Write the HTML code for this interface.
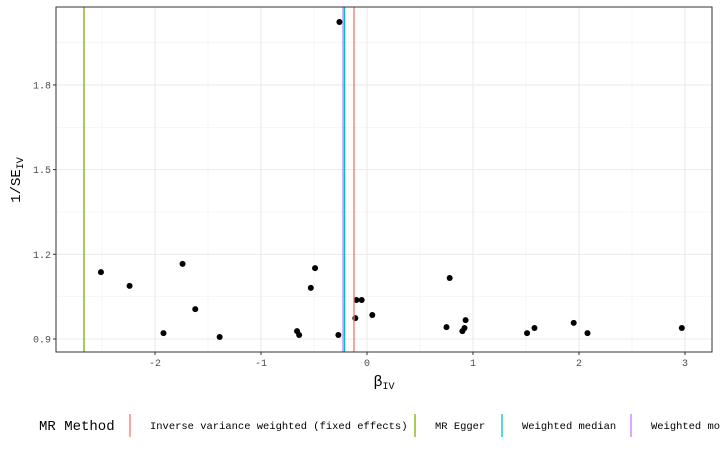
<!DOCTYPE html>
<html><head><meta charset="utf-8"><style>
body{margin:0;background:#fff;width:720px;height:451px;overflow:hidden}
svg text{font-family:"Liberation Mono","DejaVu Sans Mono",monospace}
</style></head><body>
<svg id="chart" width="720" height="451"></svg>
<script>
const betaIV=[-2.51,-2.24,-1.74,-1.62,-1.92,-1.39,-0.66,-0.64,-0.53,-0.49,-0.27,-0.26,-0.11,-0.10,-0.05,0.05,0.75,0.78,0.90,0.92,0.93,1.51,1.58,1.95,2.08,2.97];
const invSE=[1.137,1.088,1.166,1.006,0.921,0.907,0.928,0.914,1.081,1.151,0.914,2.023,0.974,1.038,1.038,0.985,0.942,1.116,0.928,0.939,0.967,0.921,0.939,0.957,0.921,0.939];
const methods=["Inverse variance weighted (fixed effects)","MR Egger","Weighted median","Weighted mode"];
const methodEst=[-0.123,-2.67,-0.212,-0.226];
const methodColors=["#F8766D","#7CAE00","#00BFC4","#C77CFF"];
const xTicks=[-2,-1,0,1,2,3];
const yTicks=[0.9,1.2,1.5,1.8];
const NS="http://www.w3.org/2000/svg";
const svg=document.getElementById('chart');
const L=56,R=712,T=7,B=352;
const sx=v=>367+v*106;
const sy=v=>339-(v-0.9)*282.3;
function mk(t,a,p){const e=document.createElementNS(NS,t);for(const k in a)e.setAttribute(k,a[k]);(p||svg).appendChild(e);return e;}
const panel=mk('rect',{x:L,y:T,width:R-L,height:B-T,fill:'#fff'});


for(let i=0;i<xTicks.length;i++){const m=xTicks[i]-0.5;const g=mk('line',{x1:sx(m),x2:sx(m),y1:T,y2:B,stroke:'#f2f2f2','stroke-width':0.6});}
for(let i=0;i<yTicks.length;i++){const m=yTicks[i]+0.15;const g=mk('line',{x1:L,x2:R,y1:sy(m),y2:sy(m),stroke:'#f2f2f2','stroke-width':0.6});}
xTicks.forEach(t=>{const g=mk('line',{x1:sx(t),x2:sx(t),y1:T,y2:B,stroke:'#ebebeb','stroke-width':1.1});
const k=mk('line',{x1:sx(t),x2:sx(t),y1:B,y2:B+3,stroke:'#333'});
const tx=mk('text',{x:sx(t),y:B+14,'text-anchor':'middle','font-size':10,fill:'#4d4d4d'});tx.textContent=t;});
yTicks.forEach(t=>{const g=mk('line',{x1:L,x2:R,y1:sy(t),y2:sy(t),stroke:'#ebebeb','stroke-width':1.1});
const k=mk('line',{x1:L-3,x2:L,y1:sy(t),y2:sy(t),stroke:'#333'});
const tx=mk('text',{x:L-5,y:sy(t)+3.5,'text-anchor':'end','font-size':10,fill:'#4d4d4d'});tx.textContent=t.toFixed(1);});
betaIV.forEach((b,i)=>{const c=mk('circle',{cx:sx(b),cy:sy(invSE[i]),r:3,fill:'#000'});});
[1,0,2,3].forEach(i=>{const l=mk('line',{x1:sx(methodEst[i]),x2:sx(methodEst[i]),y1:T,y2:B,stroke:methodColors[i],'stroke-width':1.3});});
const fr=mk('rect',{x:L,y:T,width:R-L,height:B-T,fill:'none',stroke:'#333','stroke-width':1});
const xt=mk('text',{x:384,y:386,'text-anchor':'middle','font-size':15,fill:'#000'});xt.innerHTML='β<tspan font-size="10" dy="3">IV</tspan>';
const yt=mk('text',{x:0,y:0,'text-anchor':'middle','font-size':14,fill:'#000',transform:'translate(20,180) rotate(-90)'});yt.innerHTML='1/SE<tspan font-size="10" dy="3">IV</tspan>';
const lt=mk('text',{x:39,y:430,'font-size':14,fill:'#000'});lt.textContent='MR Method';
const lx=[130,415,502,631];
methods.forEach((m,i)=>{const l=mk('line',{x1:lx[i],x2:lx[i],y1:414,y2:437,stroke:methodColors[i],'stroke-width':1.3});
const t=mk('text',{x:lx[i]+20,y:429,'font-size':10.5,fill:'#000',textLength:(m.length*6.28).toFixed(1),lengthAdjust:'spacingAndGlyphs'});t.textContent=m;});
</script></body></html>
